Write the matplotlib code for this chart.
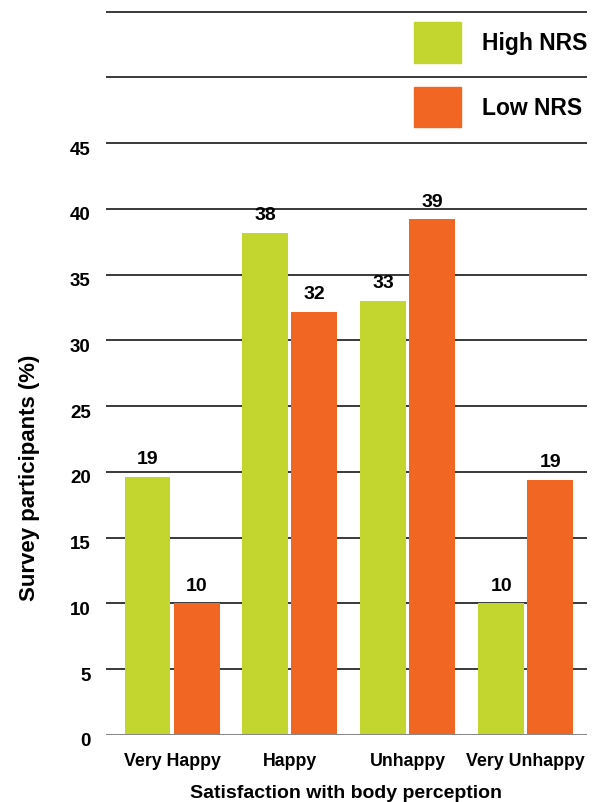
import matplotlib
matplotlib.use("Agg")
import matplotlib.pyplot as plt
import matplotlib.transforms as mtrans
from matplotlib.patches import Patch
import numpy as np

plt.rcParams['font.family'] = ['Liberation Sans', 'DejaVu Sans']
plt.rcParams['font.weight'] = 'bold'

categories = ['Very Happy', 'Happy', 'Unhappy', 'Very Unhappy']
high_nrs = [19.6, 38.2, 33.0, 10.0]
low_nrs = [10.0, 32.2, 39.2, 19.4]
high_labels = ['19', '38', '33', '10']
low_labels = ['10', '32', '39', '19']
yticks = [0, 5, 10, 15, 20, 25, 30, 35, 40, 45]
series_names = ['High NRS', 'Low NRS']

green = '#C2D62F'
orange = '#F26624'

fig = plt.figure(figsize=(6.04, 8.03), dpi=100)
ax = fig.add_axes([106/604, 67/803, (587-106)/604, (736-10)/803])

x = np.arange(len(categories))
w = 0.39
gap = 0.013
b1 = ax.bar(x - w/2 - gap, high_nrs, w, color=green, zorder=3)
b2 = ax.bar(x + w/2 + gap, low_nrs, w, color=orange, zorder=3)

for bars, labs in [(b1, high_labels), (b2, low_labels)]:
    for r, lab in zip(bars, labs):
        ax.annotate(lab, (r.get_x() + r.get_width()/2, r.get_height()),
                    xytext=(0, 7), textcoords='offset points',
                    ha='center', va='bottom', fontsize=14, fontweight='bold')

# gridlines, including the unlabeled ones above 45
for g in range(5, 60, 5):
    ax.axhline(g, color='#2a2a2a', lw=1.3, zorder=1)
ax.axhline(0, color='#888888', lw=2.2, zorder=4)

ax.set_xlim(-0.56, 3.52)
ax.set_ylim(0, 55.2)
ax.set_yticks(yticks)
ax.set_yticklabels([str(t) for t in yticks], fontsize=13.5, fontweight='bold')
ax.set_xticks(x)
ax.set_xticklabels(categories, fontsize=12.8, fontweight='bold')
ax.tick_params(axis='y', length=0, pad=11)
ax.tick_params(axis='x', length=0, pad=12)
shift = mtrans.ScaledTranslation(0, -4/100, fig.dpi_scale_trans)
for lab in ax.get_yticklabels():
    lab.set_transform(lab.get_transform() + shift)
for s in ax.spines.values():
    s.set_visible(False)

ax.set_ylabel('Survey participants (%)', fontsize=16, fontweight='bold')
ax.yaxis.set_label_coords(-0.137, 0.355)
ax.set_xlabel('Satisfaction with body perception', fontsize=14, fontweight='bold', labelpad=11)

handles = [Patch(color=green), Patch(color=orange)]
fig.legend(handles, series_names, loc='upper left',
           bbox_to_anchor=(414/604, 1 - 23/803), frameon=False,
           prop={'size': 16.5, 'weight': 'bold'}, borderpad=0, borderaxespad=0,
           handlelength=2.05, handleheight=2.35, labelspacing=1.05,
           handletextpad=0.9)

fig.savefig('out.png', dpi=100)
